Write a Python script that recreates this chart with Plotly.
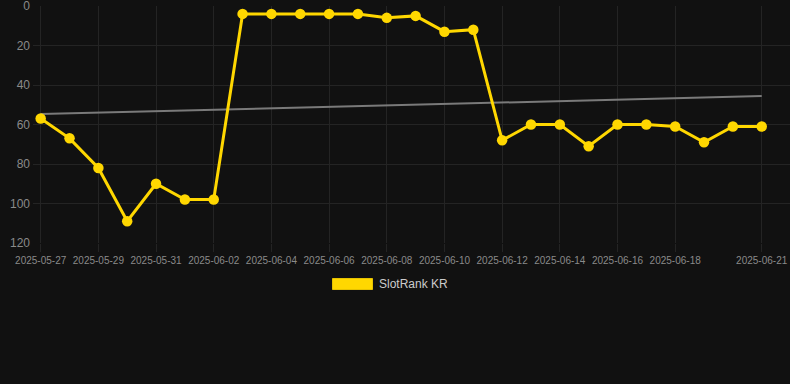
import plotly.graph_objects as go

dates = ["2025-05-27", "2025-05-28", "2025-05-29", "2025-05-30", "2025-05-31",
         "2025-06-01", "2025-06-02", "2025-06-03", "2025-06-04", "2025-06-05",
         "2025-06-06", "2025-06-07", "2025-06-08", "2025-06-09", "2025-06-10",
         "2025-06-11", "2025-06-12", "2025-06-13", "2025-06-14", "2025-06-15",
         "2025-06-16", "2025-06-17", "2025-06-18", "2025-06-19", "2025-06-20",
         "2025-06-21"]
ranks = [57, 67, 82, 109, 90, 98, 98, 4, 4, 4, 4, 4, 6, 5, 13, 12,
         68, 60, 60, 71, 60, 60, 61, 69, 61, 61]

trend_dates = ["2025-05-27", "2025-06-21"]
trend_values = [54.7, 45.6]

tick_dates = ["2025-05-27", "2025-05-29", "2025-05-31", "2025-06-02", "2025-06-04",
              "2025-06-06", "2025-06-08", "2025-06-10", "2025-06-12", "2025-06-14",
              "2025-06-16", "2025-06-18", "2025-06-21"]
y_ticks = [0, 20, 40, 60, 80, 100, 120]

series_name = "SlotRank KR"
gold = "#FFD700"
bg = "#111111"
grid = "#242424"
tick_font_color = "#8a8a8a"
font_family = "Liberation Sans, Arial, sans-serif"

fig = go.Figure()
fig.add_trace(go.Scatter(
    x=trend_dates, y=trend_values, mode="lines",
    line=dict(color="#7a7a7a", width=2),
    showlegend=False, hoverinfo="skip"))
fig.add_trace(go.Scatter(
    x=dates, y=ranks, mode="lines+markers", name=series_name,
    line=dict(color=gold, width=3),
    marker=dict(color=gold, size=10.5),
    showlegend=False))

# Legend drawn as swatch + text (Chart.js style box)
fig.add_shape(type="rect", xref="paper", yref="paper",
              x0=(332.5 - 33) / 757, x1=(372.5 - 33) / 757,
              y0=(243 - 278.5) / 237, y1=(243 - 289.5) / 237,
              fillcolor=gold, line=dict(color="#e6c200", width=1))
fig.add_annotation(xref="paper", yref="paper",
                   x=(377 - 33) / 757, y=(243 - 284) / 237,
                   xanchor="left", yanchor="middle", showarrow=False,
                   text=series_name,
                   font=dict(family=font_family, size=12, color="#cccccc"))

fig.update_layout(
    width=790, height=384,
    margin=dict(l=33, r=0, t=6, b=141),
    paper_bgcolor=bg, plot_bgcolor=bg,
    font=dict(family=font_family, color=tick_font_color),
    showlegend=False,
)
fig.update_xaxes(
    type="date",
    range=["2025-05-26 17:36", "2025-06-21 23:33"],
    tickmode="array", tickvals=tick_dates, ticktext=tick_dates,
    tickfont=dict(size=10, color=tick_font_color),
    showgrid=True, gridcolor=grid, gridwidth=1,
    ticks="outside", ticklen=8, tickcolor=grid,
    ticklabeloverflow="allow",
    zeroline=False, showline=False,
)
fig.update_yaxes(
    range=[120, 0],
    tickmode="array", tickvals=y_ticks,
    tickfont=dict(size=12, color=tick_font_color),
    showgrid=True, gridcolor=grid, gridwidth=1,
    ticks="", ticklabelstandoff=2,
    ticklabeloverflow="allow",
    zeroline=False, showline=False,
)

fig.write_html("out.html",
               config={"displayModeBar": False},
               post_script="document.body.style.margin='0';document.body.style.background='#111111';")
